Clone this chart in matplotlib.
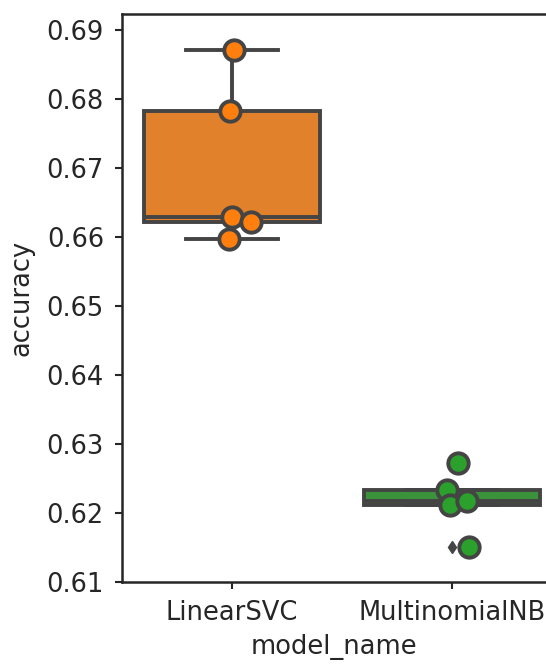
import matplotlib
matplotlib.use('Agg')
import matplotlib.pyplot as plt
import numpy as np

models = ['LinearSVC', 'MultinomialNB']
acc_svc = [0.6871, 0.6782, 0.6629, 0.6622, 0.6597]
acc_nb = [0.6273, 0.6234, 0.6211, 0.6218, 0.6151]
# horizontal jitter of the strip points
jit_svc = [0.008, -0.01, 0.0, 0.086, -0.014]
jit_nb = [0.025, -0.025, -0.01, 0.07, 0.075]

box_cols = ['#e1812c', '#3a923a']
pt_cols = ['#ff7f0e', '#2ca02c']
gray = '#444444'
txt = '#262626'

fig = plt.figure(figsize=(5.46, 6.71), dpi=100)
# the reference is cut off on the right, so the axes end at the figure edge
ax = fig.add_axes([122/546, 89/671, 424/546, 568/671])

lw = 2.8
bp = ax.boxplot([acc_svc, acc_nb], positions=[0, 1], widths=0.8,
                patch_artist=True, whis=1.5,
                boxprops=dict(edgecolor=gray, linewidth=lw),
                whiskerprops=dict(color=gray, linewidth=lw),
                capprops=dict(color=gray, linewidth=lw),
                medianprops=dict(color=gray, linewidth=lw),
                flierprops=dict(marker='d', markerfacecolor=gray,
                                markeredgecolor=gray, markersize=6))
for patch, c in zip(bp['boxes'], box_cols):
    patch.set_facecolor(c)
for cap in bp['caps']:
    m = cap.get_xdata().mean()
    cap.set_xdata([m - 0.21, m + 0.21])

for i, (vals, jit) in enumerate([(acc_svc, jit_svc), (acc_nb, jit_nb)]):
    xs = np.array(jit) + i
    ax.scatter(xs, vals, s=215, color=pt_cols[i], edgecolor=gray,
               linewidth=2.8, zorder=5)

ax.set_xlim(-0.5, 1.5 - 16/220)
ax.set_ylim(0.61, 0.6923)
yt = np.arange(0.61, 0.6901, 0.01)
ax.set_yticks(yt)
ax.set_yticklabels(['%.2f' % v for v in yt])
ax.set_xticks([0, 1])
ax.set_xticklabels(models)
ax.tick_params(labelsize=18.5, length=5, width=1.5, pad=8, colors=txt)
ax.spines['right'].set_visible(False)
for s in ['left', 'top', 'bottom']:
    ax.spines[s].set_linewidth(1.8)
    ax.spines[s].set_color(txt)
ax.set_xlabel('model_name', fontsize=18.5, labelpad=6, color=txt)
ax.set_ylabel('accuracy', fontsize=18.5, labelpad=9, color=txt)

fig.savefig('out.png', dpi=100)
